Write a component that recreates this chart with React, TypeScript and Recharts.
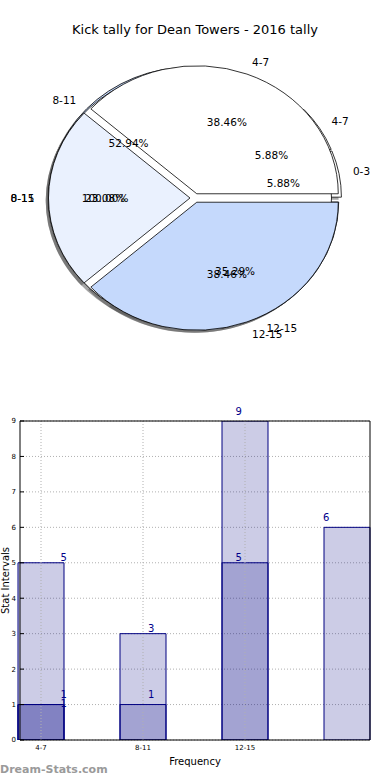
import React from "react";
import {
  PieChart,
  Pie,
  Cell,
  ComposedChart,
  Bar,
  Line,
  XAxis,
  YAxis,
  CartesianGrid,
  LabelList,
  ReferenceLine,
} from "recharts";

// tally groups (pie 1 / bar series q)
const groupsA = ["0-3", "4-7", "8-11", "12-15"];
const countsA = [1, 1, 9, 6];
// pie 2 / bar series p
const groupsB = ["4-7", "8-11", "12-15"];
const countsB = [5, 3, 5];
// pie 3 / bar series r
const groupsC = ["0-15"];
const countsC = [1];

const xTickLabels = ["4-7", "8-11", "12-15", ""];
const yTicks = [0, 1, 2, 3, 4, 5, 6, 7, 8, 9];

const colorsA = ["#ffffff", "#ffffff", "#c5d9fc", "#c5d9fc"];
const colorsB = ["#ffffff", "#eaf1fe", "#c5d9fc"];
const colorsC = ["#ffffff"];

const FONT = "DejaVu Sans";
const NAVY = "#000080";
const RAD = Math.PI / 180;
const SQUASH = 128 / 141.5;
const EXPLODE = 5;

const toSlices = (names: string[], values: number[]) =>
  names.map((name, i) => ({ name, value: values[i] }));

const pieA = toSlices(groupsA, countsA);
const pieB = toSlices(groupsB, countsB);
const pieC = toSlices(groupsC, countsC);

const barRows = xTickLabels.map((name, i) => ({
  name,
  q: countsA[i] ?? null,
  p: countsB[i] ?? null,
  r: countsC[i] ?? null,
}));

function wedgePath(cx: number, cy: number, r: number, start: number, end: number, mid: number, dx: number, dy: number) {
  const ox = cx + EXPLODE * Math.cos(mid * RAD) + dx;
  const oy = cy - EXPLODE * SQUASH * Math.sin(mid * RAD) + dy;
  const ry = r * SQUASH;
  if (Math.abs(end - start) >= 359.9) {
    return `M ${ox + r} ${oy} A ${r} ${ry} 0 1 0 ${ox - r} ${oy} A ${r} ${ry} 0 1 0 ${ox + r} ${oy} Z`;
  }
  const x1 = ox + r * Math.cos(start * RAD);
  const y1 = oy - ry * Math.sin(start * RAD);
  const x2 = ox + r * Math.cos(end * RAD);
  const y2 = oy - ry * Math.sin(end * RAD);
  const large = end - start > 180 ? 1 : 0;
  return `M ${ox} ${oy} L ${x1} ${y1} A ${r} ${ry} 0 ${large} 0 ${x2} ${y2} Z`;
}

const wedge = (shadow: boolean) => (props: any) => {
  const { cx, cy, outerRadius, startAngle, endAngle, fill } = props;
  const mid = props.midAngle ?? (startAngle + endAngle) / 2;
  const d = shadow
    ? wedgePath(cx, cy, outerRadius, startAngle, endAngle, mid, -2.8, 2.6)
    : wedgePath(cx, cy, outerRadius, startAngle, endAngle, mid, 0, 0);
  return shadow ? (
    <path d={d} fill="#4d4d4d" fillOpacity={0.5} stroke="none" />
  ) : (
    <path d={d} fill={fill} stroke="#000" strokeWidth={0.8} />
  );
};

const noWedge = () => <g />;

const pieLabel = (props: any) => {
  const { cx, cy, outerRadius: r, midAngle, percent, name } = props;
  const c = Math.cos(midAngle * RAD);
  const s = Math.sin(midAngle * RAD);
  const ox = cx + EXPLODE * c;
  const oy = cy - EXPLODE * SQUASH * s;
  return (
    <g fontFamily={FONT} fontSize={10.5} fill="#000">
      <text
        x={ox + 1.1 * r * c}
        y={oy - 1.1 * r * SQUASH * s}
        textAnchor={c > 0 ? "start" : "end"}
        dominantBaseline="central"
      >
        {name}
      </text>
      <text
        x={ox + 0.6 * r * c}
        y={oy - 0.6 * r * SQUASH * s}
        textAnchor="middle"
        dominantBaseline="central"
      >
        {(percent * 100).toFixed(2)}%
      </text>
    </g>
  );
};

const pies = [
  { data: pieA, colors: colorsA },
  { data: pieC, colors: colorsC },
  { data: pieB, colors: colorsB },
];

function TallyPie() {
  const common = { dataKey: "value", cx: 195, cy: 198, outerRadius: 141.5, isAnimationActive: false };
  return (
    <PieChart width={390} height={380} margin={{ top: 0, right: 0, bottom: 0, left: 0 }}>
      {pies.map((p, k) => (
        <Pie key={`s${k}`} {...common} data={p.data} shape={wedge(true)} label={false} labelLine={false}>
          {p.data.map((_, i) => (
            <Cell key={i} fill="#4d4d4d" />
          ))}
        </Pie>
      ))}
      {pies.map((p, k) => (
        <Pie key={`w${k}`} {...common} data={p.data} shape={wedge(false)} label={false} labelLine={false}>
          {p.data.map((_, i) => (
            <Cell key={i} fill={p.colors[i]} />
          ))}
        </Pie>
      ))}
      {pies.map((p, k) => (
        <Pie key={`l${k}`} {...common} data={p.data} shape={noWedge} label={pieLabel} labelLine={false} />
      ))}
    </PieChart>
  );
}

const YLabel = ({ viewBox }: any) => {
  const x = viewBox.x + 5;
  const y = viewBox.y + viewBox.height / 2;
  return (
    <text x={x} y={y} transform={`rotate(-90 ${x} ${y})`} textAnchor="middle" dominantBaseline="central" fontSize={10} fontFamily={FONT}>
      Stat Intervals
    </text>
  );
};

function TallyBars() {
  const tick = { fontSize: 7, fill: "#000", fontFamily: FONT };
  const labelStyle = { fill: "#00008b", fontSize: 10, fontFamily: FONT };
  return (
    <ComposedChart
      width={390}
      height={380}
      data={barRows}
      margin={{ top: 20, right: 19, bottom: 0, left: 0 }}
      barSize={46}
      barGap={-46}
    >
      <CartesianGrid vertical={false} stroke="#b0b0b0" strokeDasharray="1 2" />
      <XAxis
        dataKey="name"
        interval={0}
        padding={{ left: -30, right: -28 }}
        height={40}
        tickLine={false}
        tickSize={0}
        tickMargin={5}
        tick={tick}
        axisLine={{ stroke: "#000" }}
        label={{ value: "Frequency", position: "insideBottom", offset: 15, fontSize: 10, fill: "#000", fontFamily: FONT }}
      />
      <XAxis
        xAxisId="lab"
        dataKey="name"
        orientation="top"
        height={1}
        tick={false}
        tickLine={false}
        axisLine={{ stroke: "#000" }}
      />
      <YAxis
        domain={[0, 9]}
        allowDataOverflow
        ticks={yTicks}
        width={20}
        tickSize={-4}
        tickMargin={8}
        tick={tick}
        tickLine={{ stroke: "#000" }}
        axisLine={{ stroke: "#000" }}
        label={{ content: YLabel }}
      />
      <YAxis
        yAxisId="right"
        orientation="right"
        domain={[0, 9]}
        allowDataOverflow
        ticks={yTicks}
        width={1}
        tick={false}
        tickSize={-4}
        tickLine={{ stroke: "#000" }}
        axisLine={{ stroke: "#000" }}
      />
      {xTickLabels.filter((l) => l).map((l) => (
        <ReferenceLine key={l} x={l} stroke="#b0b0b0" strokeDasharray="1 2" />
      ))}
      <Bar dataKey="q" fill={NAVY} fillOpacity={0.2} stroke={NAVY} strokeWidth={1} barSize={46} isAnimationActive={false} />
      <Bar dataKey="p" fill={NAVY} fillOpacity={0.2} stroke={NAVY} strokeWidth={1} barSize={46} isAnimationActive={false} />
      <Bar dataKey="r" fill={NAVY} fillOpacity={0.2} stroke={NAVY} strokeWidth={1} barSize={46} isAnimationActive={false} />
      <Line xAxisId="lab" dataKey="q" stroke="none" dot={false} activeDot={false} isAnimationActive={false}>
        <LabelList dataKey="q" position="top" offset={6.4} {...labelStyle} />
      </Line>
      <Line xAxisId="lab" dataKey="p" stroke="none" dot={false} activeDot={false} isAnimationActive={false}>
        <LabelList dataKey="p" position="top" offset={1.4} {...labelStyle} />
      </Line>
      <Line xAxisId="lab" dataKey="r" stroke="none" dot={false} activeDot={false} isAnimationActive={false}>
        <LabelList dataKey="r" position="top" offset={-2.6} {...labelStyle} />
      </Line>
    </ComposedChart>
  );
}

export default function App() {
  return (
    <div style={{ position: "absolute", left: 0, top: 0, width: 390, height: 780, background: "#fff", fontFamily: FONT }}>
      <div style={{ position: "absolute", top: 21, left: 0, width: 390, textAlign: "center", fontSize: 13, lineHeight: "18px" }}>
        Kick tally for Dean Towers - 2016 tally
      </div>
      <div style={{ position: "absolute", top: 0, left: 0 }}>
        <TallyPie />
      </div>
      <div style={{ position: "absolute", top: 400, left: 0 }}>
        <TallyBars />
      </div>
      <div style={{ position: "absolute", top: 763, left: 0, fontSize: 11, fontWeight: "bold", color: "#9a9a9a" }}>
        Dream-Stats.com
      </div>
    </div>
  );
}
